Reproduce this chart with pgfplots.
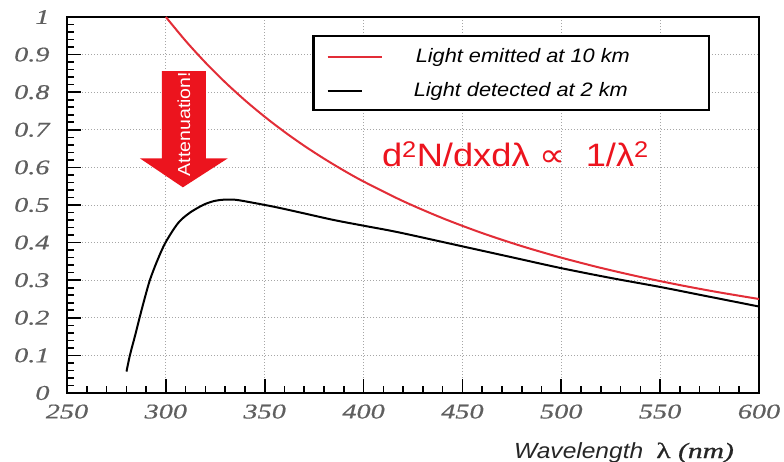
\documentclass[border=0pt]{standalone}
\usepackage{fontspec}
\usepackage{pgfplots}
\pgfplotsset{compat=1.18}
\setmainfont{Liberation Sans}
\newfontfamily\lsans[FakeStretch=1.12]{Liberation Sans}
\newfontfamily\tickf[FakeStretch=1.35,FakeBold=0.6]{Liberation Serif}
\newfontfamily\lserif[FakeStretch=1.35,FakeBold=0.8]{Liberation Serif}
\newfontfamily\djv[FakeStretch=1.12]{DejaVu Sans}
\definecolor{curvered}{RGB}{226,45,55}
\definecolor{arrowred}{RGB}{236,20,30}
\definecolor{ticklab}{RGB}{95,95,95}
\begin{document}
\begin{tikzpicture}
\begin{axis}[
  scale only axis, width=692bp, height=376bp,
  xmin=250, xmax=600, ymin=0, ymax=1,
  xtick={250,300,350,400,450,500,550,600},
  xticklabels={250,300,350,400,450,500,550,600},
  ytick={0,0.1,0.2,0.3,0.4,0.5,0.6,0.7,0.8,0.9,1},
  yticklabels={0,0.1,0.2,0.3,0.4,0.5,0.6,0.7,0.8,0.9,1},
  minor x tick num=4, minor y tick num=4,
  tick pos=left, tick align=inside,
  major tick length=14bp, minor tick length=7bp,
  every tick/.style={black, line width=1.6bp},
  axis line style={line width=2.6bp},
  grid=major,
  major grid style={gray!70, line width=0.8bp, dash pattern=on 1.5bp off 1.5bp},
  tick label style={font=\tickf\itshape\fontsize{21}{21}\selectfont, text=ticklab},
  xticklabel style={yshift=-8bp},
  yticklabel style={xshift=-14bp},
  clip=false,
  xlabel={{\lsans\itshape Wavelength}\hspace{13bp}{\lserif λ \itshape (nm)}},
  xlabel style={at={(axis description cs:0.641,-0.173)}, anchor=base west,
    font=\fontsize{22}{22}\selectfont, text=black!85},
]
% red: light emitted at 10 km
\addplot[curvered, line width=2bp, smooth] coordinates {
(300,1.0) (310,0.9365) (320,0.8789) (330,0.8264) (340,0.7785) (350,0.7347)
(360,0.6944) (370,0.6574) (380,0.6233) (390,0.5917) (400,0.5625) (420,0.5102)
(440,0.4649) (460,0.4253) (480,0.3906) (500,0.36) (520,0.3328) (540,0.3086)
(560,0.2870) (580,0.2675) (600,0.25)};
% black: light detected at 2 km
\addplot[black, line width=2bp, smooth] coordinates {
(280.1,0.057) (281.8,0.1) (284.3,0.15) (286.7,0.2) (289.2,0.25) (291.9,0.3)
(295.5,0.35) (299.8,0.4) (306.2,0.452) (312,0.479) (318.8,0.500) (324,0.510)
(329,0.514) (335,0.514) (342,0.508) (355,0.495)
(368,0.48) (385,0.46) (401,0.444) (418,0.427) (450,0.390) (475,0.361)
(500,0.332) (525,0.306) (550,0.282) (575,0.256) (600,0.230)};
% attenuation arrow
\fill[arrowred] (axis cs:298.0,0.856) -- (axis cs:320.2,0.856) -- (axis cs:320.2,0.624)
  -- (axis cs:331.3,0.624) -- (axis cs:308.6,0.547) -- (axis cs:286.9,0.624)
  -- (axis cs:298.0,0.624) -- cycle;
\node[rotate=90, text=white, font=\lsans\fontsize{17.5}{17.5}\selectfont]
  at (axis cs:309.1,0.715) {Attenuation!};
% legend
\fill[white] (axis cs:374.7,0.949) rectangle (axis cs:574.7,0.752);
\draw[line width=2.4bp] (axis cs:374.7,0.949) rectangle (axis cs:574.7,0.752);
\draw[curvered, line width=2bp] (axis cs:381.8,0.893) -- (axis cs:409.1,0.893);
\draw[black, line width=2bp] (axis cs:381.8,0.803) -- (axis cs:399.0,0.803);
\node[anchor=west, inner sep=0, font=\lsans\itshape\fontsize{19.5}{19.5}\selectfont]
  at (axis cs:426.3,0.893) {Light emitted at 10 km};
\node[anchor=west, inner sep=0, font=\lsans\itshape\fontsize{19.5}{19.5}\selectfont]
  at (axis cs:425.3,0.803) {Light detected at 2 km};
% formula
\node[text=arrowred, font=\lsans\fontsize{32.5}{32.5}\selectfont]
  at (axis cs:476.8,0.635) {d\textsuperscript{2}N/dxdλ {\djv ∝}\ \ 1/λ\textsuperscript{2}};
\end{axis}
\pgfresetboundingbox
\path[use as bounding box] (-67bp,-69bp) rectangle (717bp,393bp);
\end{tikzpicture}
\end{document}
